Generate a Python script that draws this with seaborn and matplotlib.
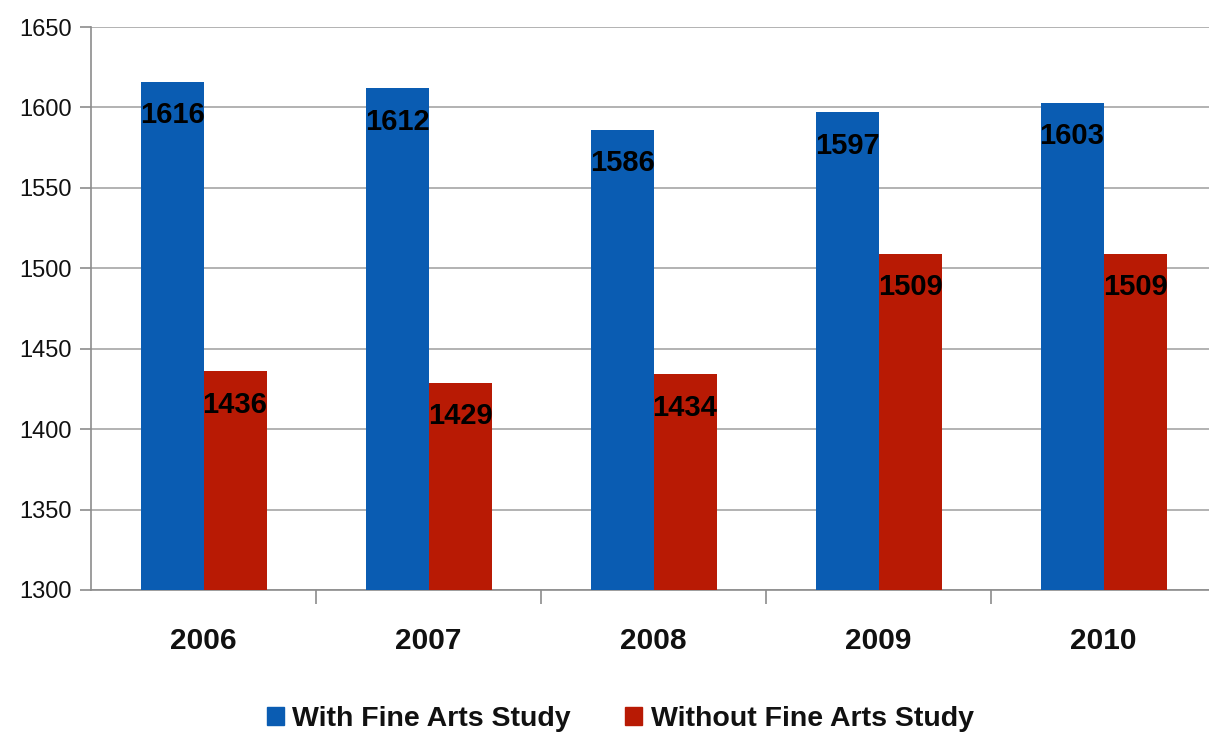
import matplotlib
matplotlib.use("Agg")
import matplotlib.pyplot as plt
import seaborn as sns
import pandas as pd
import numpy as np

years = ["2006", "2007", "2008", "2009", "2010"]
with_arts = [1616, 1612, 1586, 1597, 1603]
without_arts = [1436, 1429, 1434, 1509, 1509]
series_names = ["With Fine Arts Study", "Without Fine Arts Study"]
colors = ["#0a5cb2", "#b81a04"]

df = pd.DataFrame({
    "Year": years * 2,
    "Score": with_arts + without_arts,
    "Series": [series_names[0]] * len(years) + [series_names[1]] * len(years),
})

sns.set_theme(style="white")
plt.rcParams["font.family"] = ["Liberation Sans", "DejaVu Sans"]

fig = plt.figure(figsize=(12.09, 7.32), dpi=100)
ax = fig.add_axes([0.0753, 0.194, 0.9305, 0.769])

sns.barplot(data=df, x="Year", y="Score", hue="Series", palette=colors,
            width=0.56, gap=0, saturation=1, ax=ax, legend=True, zorder=3,
            linewidth=0, edgecolor="none")

ax.set_ylim(1300, 1650)
ax.set_xlim(-0.5, 4.5)
ax.set_yticks(np.arange(1300, 1651, 50))
ax.yaxis.grid(True, color="#a6a6a6", linewidth=1.2, zorder=0)
ax.set_axisbelow(True)
ax.set_xlabel("")
ax.set_ylabel("")

for side in ["top", "right"]:
    ax.spines[side].set_visible(False)
for side in ["left", "bottom"]:
    ax.spines[side].set_color("#8c8c8c")
    ax.spines[side].set_linewidth(1.2)

ax.tick_params(axis="y", which="major", length=8, width=1.2, color="#8c8c8c",
               labelsize=17, labelcolor="#111111", left=True, pad=6)
ax.tick_params(axis="x", which="major", length=0, labelsize=21.5,
               labelcolor="#111111", pad=27)
for lbl in ax.get_xticklabels():
    lbl.set_fontweight("bold")
ax.set_xticks(np.arange(0.5, 4.0, 1.0), minor=True)
ax.tick_params(axis="x", which="minor", length=10, width=1.2, color="#8c8c8c", bottom=True)

for cont in ax.containers:
    for bar in cont:
        h = bar.get_height()
        ax.annotate(f"{int(round(h))}", xy=(bar.get_x() + bar.get_width() / 2, h),
                    xytext=(0, -24), textcoords="offset points",
                    ha="center", va="center", fontsize=21, fontweight="bold",
                    color="black", zorder=5)

ax.legend_.remove()
handles = [plt.Rectangle((0, 0), 1, 1, color=c) for c in colors]
leg = fig.legend(handles, series_names, loc="center", bbox_to_anchor=(0.513, 0.018),
                 ncol=2, frameon=False, handlelength=0.6, handleheight=0.6,
                 handletextpad=0.3, columnspacing=1.9,
                 prop={"size": 20.5, "weight": "bold"})
for t in leg.get_texts():
    t.set_color("#111111")

fig.savefig("out.png", dpi=100)
